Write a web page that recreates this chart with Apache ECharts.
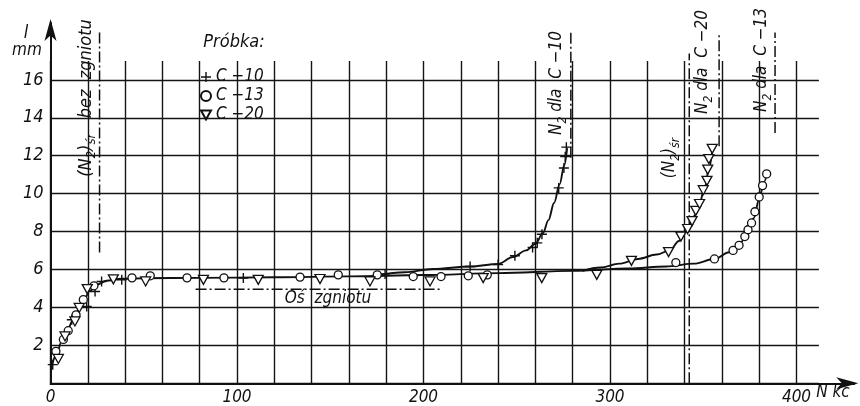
<!DOCTYPE html>
<html><head><meta charset="utf-8">
<script src="https://cdn.jsdelivr.net/npm/echarts@6/dist/echarts.min.js"></script>
<style>html,body{margin:0;padding:0;background:#fff}#c{width:860px;height:406px}</style>
</head><body><div id="c"></div>
<script>
// ---- data ----
const xLabelStep = 100;
const yLabelStep = 2;
const seriesNames = ['C \u221210', 'C \u221213', 'C \u221220'];

const c10Points = [[1.2,0.97],[11.4,3.34],[19.4,4.04],[23.9,4.83],[27.4,5.36],[38.2,5.45],[103.4,5.54],[179.4,5.76],[225,6.15],[240,6.25],[249,6.72],[258.5,7.15],[261,7.4],[263.5,7.85],[272.5,10.3],[275.3,11.35],[276,11.95],[276.6,12.45]];
const c13Points = [[2.9,1.67],[6.9,2.3],[9.5,2.76],[13.7,3.6],[17.6,4.4],[23.3,5.13],[43.7,5.55],[53.5,5.66],[73.2,5.55],[93,5.55],[133.8,5.59],[154.3,5.71],[175.2,5.71],[194.5,5.62],[209.4,5.62],[224,5.66],[234.2,5.71],[335.3,6.36],[356,6.55],[366,7.0],[369.2,7.27],[372.3,7.73],[374,8.09],[375.9,8.45],[377.7,9.04],[380,9.82],[381.8,10.42],[384,11.04]];
const c20Points = [[4.2,1.27],[7.8,2.46],[13.1,3.25],[15.4,3.96],[19.7,4.96],[33.7,5.47],[51,5.36],[82,5.45],[111.4,5.45],[144.5,5.49],[171.3,5.36],[203.5,5.36],[232,5.54],[263.4,5.54],[292.9,5.71],[311.5,6.45],[331.4,6.91],[338,7.73],[341.6,8.13],[344,8.55],[346,9.09],[348,9.45],[350,10.18],[352,10.67],[352.4,11.27],[353,11.82],[354.8,12.36]];

const trunkCurve = [[0.5,0.85],[3,1.45],[6,2.2],[9,2.8],[12,3.3],[15,3.85],[18,4.4],[21,4.85],[25,5.2],[30,5.4],[38,5.5],[50,5.53],[80,5.55],[120,5.58],[160,5.63],[200,5.7],[240,5.8],[280,5.92],[310,6.05],[330,6.15],[345,6.3],[356,6.55],[364,6.9],[370,7.4],[374,8.0],[377,8.7],[380,9.7],[382.5,10.6],[384.5,11.2]];
const c10Curve = [[175,5.68],[190,5.85],[205,6.02],[225,6.15],[240,6.28],[248,6.65],[255,7.0],[260,7.35],[264,7.9],[267,8.6],[270,9.5],[273,10.5],[275.5,11.5],[277,12.4]];
const c20Curve = [[285,5.92],[295,6.1],[305,6.3],[315,6.55],[325,6.78],[332,7.0],[337,7.5],[341,8.05],[345,8.8],[348,9.5],[351,10.4],[353,11.3],[355,12.4]];

// reference (dash-dot) lines: [x, yFrom, yTo]
const refVLines = [[26.3,6.9,18.5],[279,11.9,18.5],[342.5,0,17.4],[358.5,12.5,18.5],[388.5,13.2,18.5]];
// horizontal "Oś zgniotu": [y, xFrom, xTo]
const refHLines = [[4.96,77.8,209]];

// ---- rendering ----
const FONT = "'Liberation Sans Narrow','DejaVu Sans Condensed','Roboto Condensed','Liberation Sans',sans-serif";
const INK = '#111';
const PXX = 1.865, PXY = 18.96, X0 = 50.5, Y0 = 383.3;
const chart = echarts.init(document.getElementById('c'), null, {renderer:'canvas'});

const plusPath = 'path://M4.3,0h1.4v10h-1.4z M0,4.3h10v1.4h-10z';
const triPath = 'path://M0,0 L10,0 L5,9 Z';

const refSeries = [];
refVLines.forEach(r => refSeries.push({type:'line', xAxisIndex:0, yAxisIndex:0, data:[[r[0],r[1]],[r[0],r[2]]], symbol:'none', silent:true, z:1,
  lineStyle:{color:INK, width:1.5, type:[11,3,2,3]}}));
refHLines.forEach(r => refSeries.push({type:'line', xAxisIndex:0, yAxisIndex:0, data:[[r[1],r[0]],[r[2],r[0]]], symbol:'none', silent:true, z:1,
  lineStyle:{color:INK, width:1.5, type:[11,3,2,3]}}));

const curve = d => ({type:'line', xAxisIndex:1, yAxisIndex:1, data:d, symbol:'none', smooth:0.35, smoothMonotone:'x', silent:true, z:3,
  lineStyle:{color:INK, width:1.9}});

const txt = (x,y,text,size) => ({type:'text', x:x, y:y, z:50,
  style:{text:text, fill:INK, font:"italic "+(size||17)+"px "+FONT, align:'center', verticalAlign:'middle'}});

const mkRich = (big) => ({
  a:{fontSize:big, fontStyle:'italic', fontFamily:FONT, lineHeight:big+6, color:INK},
  s:{fontSize:Math.round(big*0.72), fontStyle:'italic', fontFamily:FONT, lineHeight:Math.round(big*0.72), verticalAlign:'bottom', color:INK}
});
const rotText = (x,y,text,big) => ({type:'text', x:x, y:y, rotation:Math.PI/2, z:50,
  style:{text:text, rich:mkRich(big||17), align:'center', verticalAlign:'middle', fill:INK, font:"italic "+(big||17)+"px "+FONT}});

chart.setOption({
  animation:false,
  backgroundColor:'#fff',
  grid:[
    {left:X0, top:Y0-19*PXY, width:431*PXX, height:19*PXY},
    {left:X0, top:Y0-17*PXY, width:412*PXX, height:17*PXY}
  ],
  xAxis:[
    {gridIndex:0, type:'value', min:0, max:431, show:true, splitLine:{show:false}, axisTick:{show:false}, axisLabel:{show:false},
      axisLine:{show:true, lineStyle:{color:INK, width:2}, symbol:['none','arrow'], symbolSize:[9,22], symbolOffset:[0,4]}},
    {gridIndex:1, type:'value', min:0, max:412, interval:20, axisLine:{show:false}, axisTick:{show:false},
      splitLine:{show:true, showMaxLine:false, lineStyle:{color:'#151515', width:1.4}},
      axisLabel:{margin:6, color:INK, fontSize:17, fontStyle:'italic', fontFamily:FONT, showMaxLabel:false,
        formatter:v => (v % xLabelStep === 0 ? String(v) : '')}}
  ],
  yAxis:[
    {gridIndex:0, type:'value', min:0, max:19, splitLine:{show:false}, axisTick:{show:false}, axisLabel:{show:false},
      axisLine:{show:true, lineStyle:{color:INK, width:2}, symbol:['none','arrow'], symbolSize:[9,22], symbolOffset:[0,4]}},
    {gridIndex:1, type:'value', min:0, max:17, interval:2, axisLine:{show:false}, axisTick:{show:false},
      splitLine:{show:true, showMaxLine:false, lineStyle:{color:'#151515', width:1.4}},
      axisLabel:{margin:7, color:INK, fontSize:18, fontStyle:'italic', fontFamily:FONT,
        formatter:v => (v > 0 && v % yLabelStep === 0 && v <= 16 ? String(v) : '')}}
  ],
  legend:{orient:'vertical', left:195, top:63, itemGap:1, itemWidth:10, itemHeight:10,
    textStyle:{fontSize:17, fontStyle:'italic', fontFamily:FONT, color:INK, lineHeight:18}, data:seriesNames},
  graphic:[
    txt(234, 42, 'Próbka:', 18),
    txt(26, 33, 'l', 18),
    txt(27, 51, 'mm', 17),
    txt(833, 393, 'N kc', 17),
    txt(328, 299, 'Oś  zgniotu', 17),
    rotText(86, 98, '{a|(N}{s|2}{a|)}{s|śr}{a|   bez  zgniotu}', 18),
    rotText(557, 83, '{a|N}{s|2}{a| dla  C \u221210}', 17),
    rotText(670, 158, '{a|(N}{s|2}{a|)}{s|śr}', 17),
    rotText(703, 62, '{a|N}{s|2}{a| dla  C \u221220}', 17),
    rotText(762, 60, '{a|N}{s|2}{a| dla  C \u221213}', 17)
  ],
  series:[
    ...refSeries,
    curve(trunkCurve), curve(c10Curve), curve(c20Curve),
    {name:seriesNames[0], type:'scatter', xAxisIndex:1, yAxisIndex:1, data:c10Points, symbol:plusPath, symbolSize:10, z:5,
      itemStyle:{color:INK, borderWidth:0, opacity:1}},
    {name:seriesNames[1], type:'scatter', xAxisIndex:1, yAxisIndex:1, data:c13Points, symbol:'circle', symbolSize:8, z:5,
      itemStyle:{color:'#fff', borderColor:INK, borderWidth:1.3, opacity:1}},
    {name:seriesNames[2], type:'scatter', xAxisIndex:1, yAxisIndex:1, data:c20Points, symbol:triPath, symbolSize:[10,9], z:5,
      itemStyle:{color:'#fff', borderColor:INK, borderWidth:1.3, opacity:1}}
  ]
});
</script></body></html>
